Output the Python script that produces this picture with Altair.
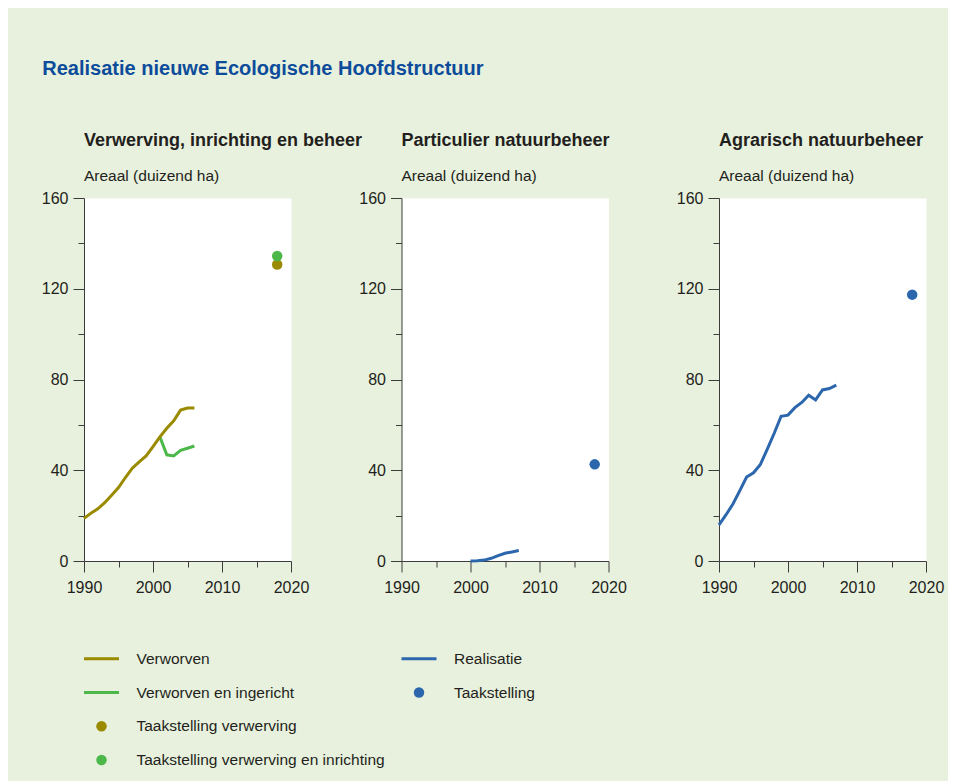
import altair as alt
import pandas as pd

# ---------------- data ----------------
years_verworven = list(range(1990, 2007))
verworven = [18.8, 21.0, 23.0, 25.7, 29.0, 32.4, 36.8, 40.9, 43.7, 46.3,
             50.4, 54.7, 58.5, 61.8, 66.5, 67.4, 67.4]
years_ingericht = list(range(2001, 2007))
ingericht = [54.7, 46.8, 46.3, 48.8, 49.7, 50.7]

years_particulier = list(range(2000, 2008))
particulier = [0.0, 0.1, 0.4, 1.2, 2.4, 3.4, 4.0, 4.6]

years_agrarisch = list(range(1990, 2008))
agrarisch = [15.9, 20.3, 25.0, 30.9, 37.0, 38.9, 42.6, 49.3, 56.3, 63.8,
             64.3, 67.6, 69.9, 73.1, 71.0, 75.4, 76.0, 77.5]

target_year = 2018
taak_verwerving = 130.7
taak_inrichting = 134.4
taak_particulier = 42.6
taak_agrarisch = 117.4

panel_titles = ["Verwerving, inrichting en beheer", "Particulier natuurbeheer",
                "Agrarisch natuurbeheer"]
y_title = "Areaal (duizend ha)"
main_title = "Realisatie nieuwe Ecologische Hoofdstructuur"

series_names = ["Verworven", "Verworven en ingericht", "Taakstelling verwerving",
                "Taakstelling verwerving en inrichting", "Realisatie", "Taakstelling"]
series_colors = ["#9A8A00", "#4DB84A", "#9A8A00", "#4DB84A", "#2C67AD", "#2C67AD"]

legend_left = ["Verworven", "Verworven en ingericht", "Taakstelling verwerving",
               "Taakstelling verwerving en inrichting"]
legend_left_kind = ["line", "line", "point", "point"]
legend_right = ["Realisatie", "Taakstelling"]
legend_right_kind = ["line", "point"]

# ---------------- tables ----------------
rows = []
for y, v in zip(years_verworven, verworven):
    rows.append((0, "Verworven", y, v))
for y, v in zip(years_ingericht, ingericht):
    rows.append((0, "Verworven en ingericht", y, v))
for y, v in zip(years_particulier, particulier):
    rows.append((1, "Realisatie", y, v))
for y, v in zip(years_agrarisch, agrarisch):
    rows.append((2, "Realisatie", y, v))
lines_df = pd.DataFrame(rows, columns=["panel", "series", "year", "value"])

points_df = pd.DataFrame([
    (0, "Taakstelling verwerving", target_year, taak_verwerving),
    (0, "Taakstelling verwerving en inrichting", target_year, taak_inrichting),
    (1, "Taakstelling", target_year, taak_particulier),
    (2, "Taakstelling", target_year, taak_agrarisch),
], columns=["panel", "series", "year", "value"])

TXT = "#231F20"
AX = "#3C3C3C"
BG = "#E8F1DD"

color_enc = alt.Color("series:N", scale=alt.Scale(domain=series_names, range=series_colors),
                      legend=None)

xaxis = alt.Axis(values=list(range(1990, 2021, 5)), format="d",
                 labelExpr="datum.value % 10 === 0 ? datum.label : ''",
                 tickSize={"condition": {"test": "datum.value % 10 === 0", "value": 11}, "value": 6},
                 domainColor=AX, tickColor=AX, labelColor=TXT, labelFontSize=16,
                 labelPadding=7, labelFlush=False, labelOverlap=False, grid=False)
yaxis = alt.Axis(values=list(range(0, 161, 20)),
                 labelExpr="datum.value % 40 === 0 ? datum.label : ''",
                 tickSize={"condition": {"test": "datum.value % 40 === 0", "value": 11}, "value": 6},
                 domainColor=AX, tickColor=AX, labelColor=TXT, labelFontSize=16,
                 labelPadding=5, labelFlush=False, labelOverlap=False, grid=False)

xenc = alt.X("year:Q", scale=alt.Scale(domain=[1990, 2020], nice=False, zero=False),
             axis=xaxis, title=None)
yenc = alt.Y("value:Q", scale=alt.Scale(domain=[0, 160], nice=False), axis=yaxis, title=None)

W, H = 207, 363
GAP = 110.5


def panel(idx, line_series, point_series):
    layers = []
    for s in line_series:
        layers.append(
            alt.Chart(lines_df).mark_line(strokeWidth=3, strokeJoin="miter").encode(
                x=xenc, y=yenc, color=color_enc
            ).transform_filter(
                (alt.datum.panel == idx) & (alt.datum.series == s)
            )
        )
    for s in point_series:
        layers.append(
            alt.Chart(points_df).mark_circle(size=110, opacity=1).encode(
                x=xenc, y=yenc, color=color_enc
            ).transform_filter(
                (alt.datum.panel == idx) & (alt.datum.series == s)
            )
        )
    return alt.layer(*layers).properties(
        width=W, height=H,
        view=alt.ViewBackground(fill="white", stroke="transparent"),
        title=alt.TitleParams(
            text=panel_titles[idx], subtitle=y_title, anchor="start", frame="group",
            fontSize=18, fontWeight="bold", color=TXT,
            subtitleFontSize=15.5, subtitleColor=TXT, subtitlePadding=19, offset=6,
        ),
    )


p1 = panel(0, ["Verworven en ingericht", "Verworven"],
           ["Taakstelling verwerving", "Taakstelling verwerving en inrichting"])
p2 = panel(1, ["Realisatie"], ["Taakstelling"])
p3 = panel(2, ["Realisatie"], ["Taakstelling"])

STEP = 33.7


def legend_chart(labels, kinds):
    df = pd.DataFrame({"series": labels, "kind": kinds})
    yl = alt.Y("series:N", sort=labels, axis=None,
               scale=alt.Scale(paddingInner=0, paddingOuter=0))
    rule = alt.Chart(df).mark_rule(strokeWidth=3).encode(
        y=yl, x=alt.value(0), x2=alt.value(35), color=color_enc
    ).transform_filter(alt.datum.kind == "line")
    dot = alt.Chart(df).mark_circle(size=110, opacity=1).encode(
        y=yl, x=alt.value(17.5), color=color_enc
    ).transform_filter(alt.datum.kind == "point")
    txt = alt.Chart(df).mark_text(align="left", baseline="middle", fontSize=15.5,
                                  color=TXT).encode(
        y=yl, x=alt.value(52.5), text="series:N"
    )
    return alt.layer(rule, dot, txt).properties(
        width=W, height=STEP * len(labels),
        view=alt.ViewBackground(fill="transparent", stroke="transparent"),
    )


l1 = legend_chart(legend_left, legend_left_kind)
l2 = legend_chart(legend_right, legend_right_kind)

top = alt.hconcat(p1, p2, p3, spacing=GAP, bounds="flush")
bottom = alt.hconcat(l1, l2, spacing=GAP, bounds="flush")

# the nested row counts as zero height in a flush layout, so the spacing
# spans the plot height plus the gap between the x axis and the legend
chart = alt.vconcat(top, bottom, spacing=H + 81, bounds="flush").properties(
    title=alt.TitleParams(main_title, anchor="start", fontSize=20, fontWeight="bold",
                          color="#0C4C9B", offset=52, dx=1.5),
    padding={"left": 32, "top": 51, "right": 3, "bottom": 5},
    background=BG,
).configure(
    font="Liberation Sans",
).configure_view(stroke="transparent")

chart.save("out.html", embed_options={"renderer": "svg", "actions": False})
